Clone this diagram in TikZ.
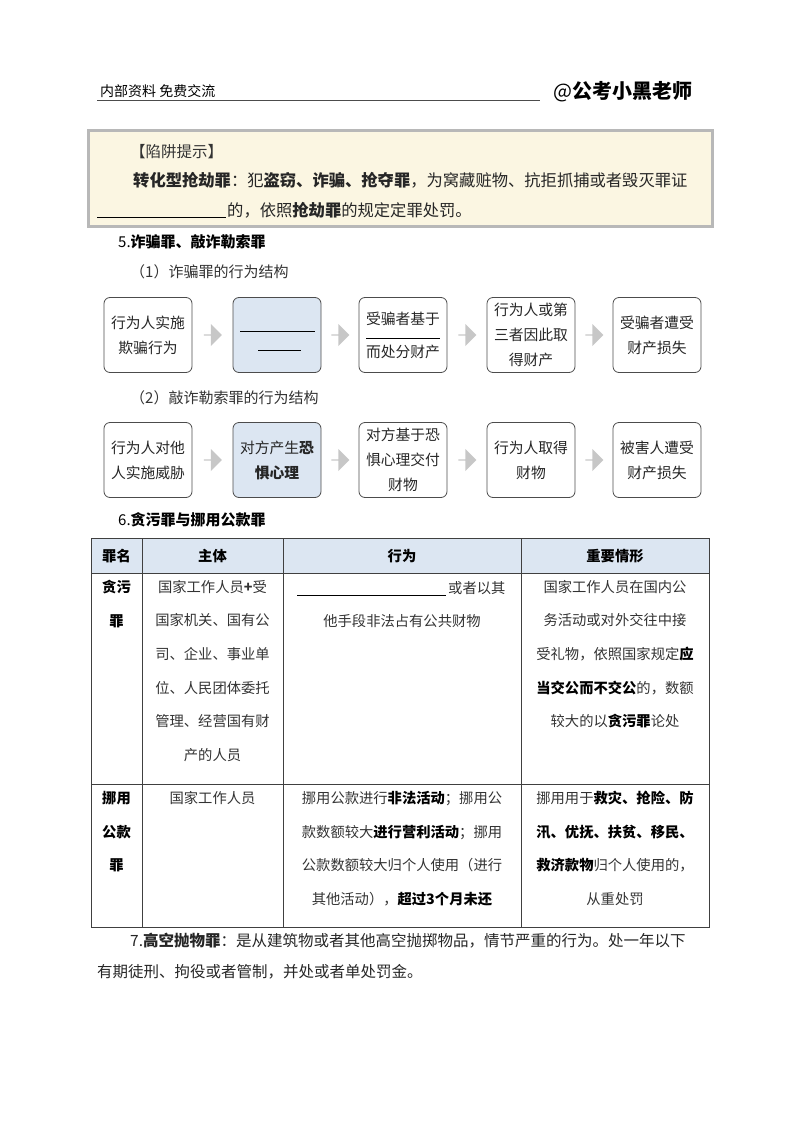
\documentclass[tikz,border=0pt]{standalone}
\usepackage{fontspec}
\setmainfont{Noto Sans CJK SC}
\usetikzlibrary{shapes.arrows,calc}
\definecolor{lblue}{RGB}{220,230,242}
\definecolor{beige}{RGB}{251,246,226}
\begin{document}
\begin{tikzpicture}[x=1pt,y=-1pt,
  every node/.style={inner sep=0pt,font=\fontsize{15.5}{20}\selectfont},
  fbox/.style={draw=black!70,rounded corners=6pt,line width=0.8pt,minimum width=88pt,minimum height=75pt,align=center,font=\fontsize{14.8}{25}\selectfont,text=black!85},
  hbox/.style={fbox,fill=lblue},
  arr/.style={single arrow,fill=black!22,minimum width=22pt,minimum height=18pt,single arrow head extend=3pt,inner sep=0pt},
  tl/.style={anchor=north,align=center,font=\fontsize{14.3}{33.6}\selectfont,text=black!80},
  ul/.style={line width=0.7pt}]
\useasboundingbox (0,0) rectangle (800,1124);
% header
\node[anchor=base west,font=\fontsize{14}{20}\selectfont] (h1) at (100,96) {内部资料\ 免费交流};
\draw[line width=0.8pt,black!70] (97,100) -- (540,100);
\node[anchor=base west,font=\fontsize{20}{24}\selectfont] (h2) at (553,99) {@\textbf{公考小黑老师}};
% tip box
\draw[fill=beige,draw=black!28,line width=3pt] (88,130) rectangle (712,226);
\node[anchor=base west,text=black!80] (t1) at (130,157) {【陷阱提示】};
\node[anchor=base west,text=black!85,font=\fontsize{16.3}{20}\selectfont] (t2) at (133,186) {\textbf{转化型抢劫罪}：犯\textbf{盗窃、诈骗、抢夺罪}，为窝藏赃物、抗拒抓捕或者毁灭罪证};
\draw[ul] (97,217) -- (226,217);
\node[anchor=base west,text=black!85,font=\fontsize{16.3}{20}\selectfont] (t3) at (227,216) {的，依照\textbf{抢劫罪}的规定定罪处罚。};
\node[anchor=base west,font=\fontsize{15}{20}\selectfont] (s5) at (118,247) {5.\textbf{诈骗罪、敲诈勒索罪}};
\node[anchor=base west,font=\fontsize{15}{20}\selectfont,text=black!80] (s51) at (130,277) {（1）诈骗罪的行为结构};
% row 1
\node[fbox] (a1) at (148,335) {行为人实施\\欺骗行为};
\node[hbox] (a2) at (277,335) {};
\draw[ul] (240,331) -- (315,331);
\draw[ul] (258,350) -- (301,350);
\node[fbox] (a3) at (403,335) {受骗者基于\\[8pt]而处分财产};
\draw[line width=0.5pt] (366,338) -- (440,338);
\node[fbox] (a4) at (531,335) {行为人或第\\三者因此取\\得财产};
\node[fbox] (a5) at (657,335) {受骗者遭受\\财产损失};
\foreach \p/\q in {a1/a2,a2/a3,a3/a4,a4/a5}
  \node[arr] at ($(\p.east)!0.5!(\q.west)$) {};
\node[anchor=base west,font=\fontsize{15}{20}\selectfont,text=black!80] (s52) at (130,403) {（2）敲诈勒索罪的行为结构};
% row 2
\node[fbox] (b1) at (148,460) {行为人对他\\人实施威胁};
\node[hbox] (b2) at (277,460) {对方产生\textbf{恐}\\\textbf{惧心理}};
\node[fbox] (b3) at (403,460) {对方基于恐\\惧心理交付\\财物};
\node[fbox] (b4) at (531,460) {行为人取得\\财物};
\node[fbox] (b5) at (657,460) {被害人遭受\\财产损失};
\foreach \p/\q in {b1/b2,b2/b3,b3/b4,b4/b5}
  \node[arr] at ($(\p.east)!0.5!(\q.west)$) {};
\node[anchor=base west,font=\fontsize{15}{20}\selectfont] (s6) at (118,525) {6.\textbf{贪污罪与挪用公款罪}};
% table
\fill[lblue] (91,538) rectangle (709,573);
\draw[line width=0.7pt,black!75] (91,538) rectangle (709,927);
\draw[line width=0.7pt,black!75] (91,573) -- (709,573) (91,784) -- (709,784)
  (142,538) -- (142,927) (283,538) -- (283,927) (521,538) -- (521,927);
\node[anchor=base,font=\fontsize{14.3}{20}\selectfont\bfseries] (c1) at (116.5,561) {罪名};
\node[anchor=base,font=\fontsize{14.3}{20}\selectfont\bfseries] (c2) at (212.5,561) {主体};
\node[anchor=base,font=\fontsize{14.3}{20}\selectfont\bfseries] (c3) at (402,561) {行为};
\node[anchor=base,font=\fontsize{14.3}{20}\selectfont\bfseries] (c4) at (615,561) {重要情形};
\node[tl,text=black] (r1a) at (116.5,580) {\textbf{贪污}\\\textbf{罪}};
\node[tl] (r1b) at (212.5,580) {国家工作人员\textbf{+}受\\国家机关、国有公\\司、企业、事业单\\位、人民团体委托\\管理、经营国有财\\产的人员};
\draw[ul] (297,595) -- (446,595);
\node[anchor=base west,font=\fontsize{14.3}{20}\selectfont,text=black!80] (r1c1) at (448,593) {或者以其};
\node[tl] (r1c) at (402,614) {他手段非法占有公共财物};
\node[tl] (r1d) at (615,580) {国家工作人员在国内公\\务活动或对外交往中接\\受礼物，依照国家规定\textbf{\color{black}应}\\\textbf{\color{black}当交公而不交公}的，数额\\较大的以\textbf{\color{black}贪污罪}论处};
\node[tl,text=black] (r2a) at (116.5,791) {\textbf{挪用}\\\textbf{公款}\\\textbf{罪}};
\node[tl] (r2b) at (212.5,791) {国家工作人员};
\node[tl] (r2c) at (402,791) {挪用公款进行\textbf{\color{black}非法活动}；挪用公\\款数额较大\textbf{\color{black}进行营利活动}；挪用\\公款数额较大归个人使用（进行\\其他活动），\textbf{\color{black}超过3个月未还}};
\node[tl] (r2d) at (615,791) {挪用用于\textbf{\color{black}救灾、抢险、防}\\\textbf{\color{black}汛、优抚、扶贫、移民、}\\\textbf{\color{black}救济款物}归个人使用的，\\从重处罚};
% last paragraph
\node[anchor=base west,text=black!85] (p1) at (130,946) {7.\textbf{高空抛物罪}：是从建筑物或者其他高空抛掷物品，情节严重的行为。处一年以下};
\node[anchor=base west,text=black!85] (p2) at (97,977) {有期徒刑、拘役或者管制，并处或者单处罚金。};
\end{tikzpicture}
\end{document}
